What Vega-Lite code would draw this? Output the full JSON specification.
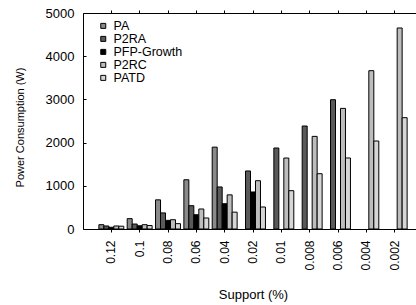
{
  "$schema": "https://vega.github.io/schema/vega-lite/v6.json",
  "autosize": {"type": "none"},
  "padding": {"left": 83, "top": 13, "right": 0, "bottom": 76},
  "width": 333,
  "height": 216,
  "config": {
    "font": "Liberation Sans",
    "view": {"stroke": null},
    "axis": {"domainColor": "black", "tickColor": "black", "labelColor": "black", "titleColor": "black", "grid": false, "domainWidth": 1, "tickWidth": 1}
  },
  "data": {"values": [
    {"support": "0.12", "series": "PA", "power": 100},
    {"support": "0.12", "series": "P2RA", "power": 70},
    {"support": "0.12", "series": "PFP-Growth", "power": 40},
    {"support": "0.12", "series": "P2RC", "power": 70},
    {"support": "0.12", "series": "PATD", "power": 65},
    {"support": "0.1", "series": "PA", "power": 240},
    {"support": "0.1", "series": "P2RA", "power": 115},
    {"support": "0.1", "series": "PFP-Growth", "power": 75},
    {"support": "0.1", "series": "P2RC", "power": 100},
    {"support": "0.1", "series": "PATD", "power": 80},
    {"support": "0.08", "series": "PA", "power": 675},
    {"support": "0.08", "series": "P2RA", "power": 372},
    {"support": "0.08", "series": "PFP-Growth", "power": 200},
    {"support": "0.08", "series": "P2RC", "power": 215},
    {"support": "0.08", "series": "PATD", "power": 124},
    {"support": "0.06", "series": "PA", "power": 1140},
    {"support": "0.06", "series": "P2RA", "power": 540},
    {"support": "0.06", "series": "PFP-Growth", "power": 330},
    {"support": "0.06", "series": "P2RC", "power": 463},
    {"support": "0.06", "series": "PATD", "power": 255},
    {"support": "0.04", "series": "PA", "power": 1895},
    {"support": "0.04", "series": "P2RA", "power": 973},
    {"support": "0.04", "series": "PFP-Growth", "power": 585},
    {"support": "0.04", "series": "P2RC", "power": 790},
    {"support": "0.04", "series": "PATD", "power": 390},
    {"support": "0.02", "series": "P2RA", "power": 1343},
    {"support": "0.02", "series": "PFP-Growth", "power": 857},
    {"support": "0.02", "series": "P2RC", "power": 1118},
    {"support": "0.02", "series": "PATD", "power": 509},
    {"support": "0.01", "series": "P2RA", "power": 1875},
    {"support": "0.01", "series": "P2RC", "power": 1643},
    {"support": "0.01", "series": "PATD", "power": 887},
    {"support": "0.008", "series": "P2RA", "power": 2384},
    {"support": "0.008", "series": "P2RC", "power": 2144},
    {"support": "0.008", "series": "PATD", "power": 1280},
    {"support": "0.006", "series": "P2RA", "power": 2993},
    {"support": "0.006", "series": "P2RC", "power": 2792},
    {"support": "0.006", "series": "PATD", "power": 1644},
    {"support": "0.004", "series": "P2RC", "power": 3665},
    {"support": "0.004", "series": "PATD", "power": 2037},
    {"support": "0.002", "series": "P2RC", "power": 4653},
    {"support": "0.002", "series": "PATD", "power": 2577}
  ]},
  "layer": [
    {
      "mark": {"type": "bar", "stroke": "black", "strokeWidth": 1},
      "encoding": {
        "x": {
          "field": "support", "type": "nominal",
          "sort": ["0.12", "0.1", "0.08", "0.06", "0.04", "0.02", "0.01", "0.008", "0.006", "0.004", "0.002"],
          "scale": {"range": [0, 340], "paddingInner": 0.12, "paddingOuter": 0.56},
          "axis": {"orient": "bottom", "title": "Support (%)", "labelAngle": 270, "labelFontSize": 12, "tickSize": 3, "labelPadding": 8, "titleFontSize": 13, "titleFontWeight": "normal", "titleBaseline": "alphabetic", "titleY": 69.5, "titleX": 170}
        },
        "xOffset": {
          "field": "series", "type": "nominal",
          "sort": ["PA", "P2RA", "PFP-Growth", "P2RC", "PATD"],
          "scale": {"paddingInner": 0, "paddingOuter": 0}
        },
        "y": {
          "field": "power", "type": "quantitative",
          "scale": {"domain": [0, 5000], "nice": false},
          "axis": {"title": "Power Consumption (W)", "format": "d", "values": [0, 1000, 2000, 3000, 4000, 5000], "labelFontSize": 13, "tickSize": -3, "labelPadding": 12, "titleFontSize": 11, "titleFontWeight": "normal", "titleAngle": 270, "titleX": -57.5, "titleY": 114, "titleAlign": "center", "titleBaseline": "bottom"}
        },
        "color": {
          "field": "series", "type": "nominal",
          "sort": ["PA", "P2RA", "PFP-Growth", "P2RC", "PATD"],
          "scale": {"domain": ["PA", "P2RA", "PFP-Growth", "P2RC", "PATD"], "range": ["#8a8a8a", "#5a5a5a", "#000000", "#bdbdbd", "#d6d6d6"]},
          "legend": {"title": null, "orient": "none", "legendX": 14, "legendY": 7, "padding": 0, "symbolType": "square", "symbolSize": 25, "symbolStrokeColor": "black", "symbolStrokeWidth": 1, "labelFontSize": 12.5, "labelOffset": 4, "rowPadding": -2.5, "clipHeight": 11.75, "labelColor": "black"}
        }
      }
    },
    {
      "mark": {"type": "bar", "opacity": 0},
      "encoding": {
        "x": {
          "field": "support", "type": "nominal",
          "sort": ["0.12", "0.1", "0.08", "0.06", "0.04", "0.02", "0.01", "0.008", "0.006", "0.004", "0.002"],
          "axis": {"orient": "top", "title": null, "labels": false, "tickSize": 3}
        },
        "y": {"field": "power", "type": "quantitative"}
      }
    }
  ],
  "resolve": {"axis": {"x": "independent"}}
}
